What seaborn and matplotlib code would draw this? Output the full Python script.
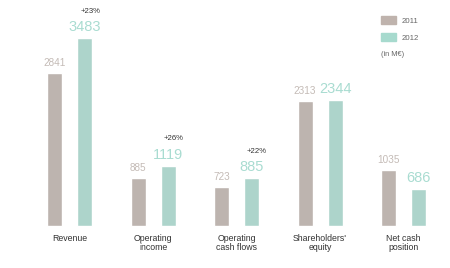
import matplotlib
matplotlib.use("Agg")
import matplotlib.pyplot as plt
import seaborn as sns
import pandas as pd

categories = ["Revenue", "Operating\nincome", "Operating\ncash flows", "Shareholders'\nequity", "Net cash\nposition"]
values_2011 = [2841, 885, 723, 2313, 1035]
values_2012 = [3483, 1119, 885, 2344, 686]
changes = ["+23%", "+26%", "+22%"]
years = ["2011", "2012"]

c2011 = "#bfb3ad"
c2012 = "#a7dace"
t2011 = "#c4bbb6"
t2012 = "#a9dcd1"

sns.set_theme(style="white")
plt.rcParams["font.family"] = ["Liberation Sans", "DejaVu Sans"]

df = pd.DataFrame({
    "category": categories * 2,
    "year": [years[0]] * len(categories) + [years[1]] * len(categories),
    "value": values_2011 + values_2012,
})

fig = plt.figure(figsize=(4.5, 2.68), dpi=100)
ax = fig.add_axes([0, 0, 1, 1])
sns.barplot(data=df, x="category", y="value", hue="year", order=categories,
            hue_order=years, palette=[c2011, c2012], width=0.72, gap=0.5,
            legend=False, ax=ax, errorbar=None)

ax.set_xlim(-0.839, 4.558)
ax.set_ylim(-779, 4194)
ax.axis("off")

off = 0.18
for i, (a, b) in enumerate(zip(values_2011, values_2012)):
    ax.annotate(str(a), (i - off, a), xytext=(0, 7.2), textcoords="offset points",
                ha="center", va="center", fontsize=7.2, color=t2011)
    ax.annotate(str(b), (i + off, b), xytext=(0, 7.9), textcoords="offset points",
                ha="center", va="center", fontsize=10.5, color=t2012)
    ax.annotate(categories[i], (i, 0), xytext=(0, -5.5), textcoords="offset points",
                ha="center", va="top", fontsize=6.3, color="#333333", linespacing=1.05)

for i, ch in enumerate(changes):
    ax.annotate(ch, (i + off, values_2012[i]), xytext=(3.8, 19.5), textcoords="offset points",
                ha="center", va="center", fontsize=5.6, color="#333333")

# legend
fig.patches.append(plt.Rectangle((381 / 450, 1 - 24 / 268), 15 / 450, 8 / 268,
                                 transform=fig.transFigure, color=c2011))
fig.patches.append(plt.Rectangle((381 / 450, 1 - 41 / 268), 15 / 450, 8 / 268,
                                 transform=fig.transFigure, color=c2012))
fig.text(402 / 450, 1 - 21 / 268, years[0], fontsize=5.6, color="#666666", va="center")
fig.text(402 / 450, 1 - 38 / 268, years[1], fontsize=5.6, color="#666666", va="center")
fig.text(381 / 450, 1 - 54 / 268, "(in M€)", fontsize=5.3, color="#666666", va="center")

fig.savefig("out.png", dpi=100)
